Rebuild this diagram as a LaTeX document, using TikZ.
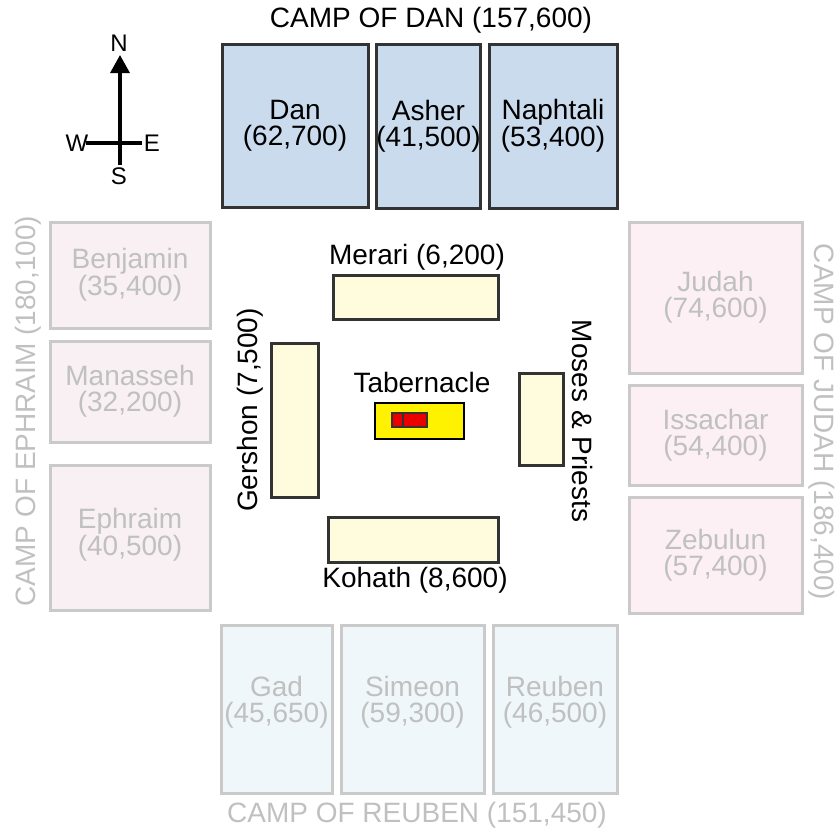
\documentclass[tikz,border=0pt]{standalone}
\usepackage{fontspec}
\setmainfont{Liberation Sans}
\usetikzlibrary{arrows.meta}
\definecolor{danfill}{RGB}{203,219,238}
\definecolor{darkline}{RGB}{51,51,51}
\definecolor{pinkL}{RGB}{248,240,243}
\definecolor{pinkR}{RGB}{252,240,244}
\definecolor{grayline}{RGB}{202,202,202}
\definecolor{graytext}{RGB}{192,192,192}
\definecolor{cyanfill}{RGB}{239,247,251}
\definecolor{cream}{RGB}{255,251,221}
\definecolor{tabred}{RGB}{235,0,0}
\tikzset{
  lbl/.style={inner sep=0pt, align=center, font=\fontsize{28}{26}\selectfont},
  tribe/.style={lbl, draw, line width=3pt, minimum width=#1},
  dantribe/.style={tribe=#1, fill=danfill, draw=darkline, text=black},
  ephtribe/.style={tribe=#1, fill=pinkL, draw=grayline, text=graytext},
  judtribe/.style={tribe=#1, fill=pinkR, draw=grayline, text=graytext},
  reutribe/.style={tribe=#1, fill=cyanfill, draw=grayline, text=graytext, text depth=20pt},
  levite/.style={draw=darkline, fill=cream, line width=3pt, inner sep=0pt},
  camptitle/.style={lbl},
  graytitle/.style={lbl, text=graytext},
  compassline/.style={line width=3.3pt, black},
  compasslbl/.style={inner sep=0pt, font=\fontsize{24}{24}\selectfont}
}
\begin{document}
\begin{tikzpicture}[x=1pt, y=-1pt]
\useasboundingbox (0,0) rectangle (838,835);
% compass
\coordinate (ctop) at (120,55);
\coordinate (cbot) at (120,165);
\coordinate (cw) at (86,143);
\coordinate (ce) at (142,143);
\draw[compassline, -{Triangle[width=19pt,length=18pt]}] (cbot) -- (ctop);
\draw[compassline] (cw) -- (ce);
\node[compasslbl] (N) at (119,43) {N};
\node[compasslbl] (S) at (119,176) {S};
\node[compasslbl] (W) at (77,143) {W};
\node[compasslbl] (E) at (152,143) {E};
% camp of Dan
\node[camptitle] (tdan) at (431,20) {CAMP OF DAN (157,600)};
\node[dantribe=146pt, minimum height=163pt] (dan) at (295,125.5) {Dan\\(62,700)};
\node[dantribe=103pt, minimum height=164pt] (asher) at (428.5,126) {Asher\\(41,500)};
\node[dantribe=128pt, minimum height=164pt] (naphtali) at (553,126) {Naphtali\\(53,400)};
% camp of Ephraim
\node[graytitle, rotate=90] (teph) at (28,411) {CAMP OF EPHRAIM (180,100)};
\node[ephtribe=160pt, minimum height=106pt] (benjamin) at (130,275) {Benjamin\\(35,400)};
\node[ephtribe=160pt, minimum height=101pt] (manasseh) at (130,391.5) {Manasseh\\(32,200)};
\node[ephtribe=160pt, minimum height=145pt, text depth=12pt] (ephraim) at (130,537.5) {Ephraim\\(40,500)};
% camp of Judah
\node[graytitle, rotate=-90] (tjud) at (822,422) {CAMP OF JUDAH (186,400)};
\node[judtribe=173pt, minimum height=151pt] (judah) at (715.5,297.5) {Judah\\(74,600)};
\node[judtribe=173pt, minimum height=100pt] (issachar) at (715.5,435) {Issachar\\(54,400)};
\node[judtribe=173pt, minimum height=116pt] (zebulun) at (715.5,555) {Zebulun\\(57,400)};
% camp of Reuben
\node[graytitle] (treu) at (417,815) {CAMP OF REUBEN (151,450)};
\node[reutribe=111pt, minimum height=168pt] (gad) at (276.5,709) {Gad\\(45,650)};
\node[reutribe=143pt, minimum height=168pt] (simeon) at (412.5,709) {Simeon\\(59,300)};
\node[reutribe=124pt, minimum height=168pt] (reuben) at (555,709) {Reuben\\(46,500)};
% Levites
\node[levite, minimum width=165pt, minimum height=44pt] (merari) at (415.5,297) {};
\node[lbl] (lmerari) at (417,257) {Merari (6,200)};
\node[levite, minimum width=47pt, minimum height=154pt] (gershon) at (294.5,420) {};
\node[lbl, rotate=90] (lgershon) at (250,410) {Gershon (7,500)};
\node[levite, minimum width=44pt, minimum height=92pt] (moses) at (541,419) {};
\node[lbl, rotate=-90] (lmoses) at (583,421) {Moses \& Priests};
\node[levite, minimum width=170pt, minimum height=45pt] (kohath) at (413,539.5) {};
\node[lbl] (lkohath) at (415,580) {Kohath (8,600)};
% Tabernacle
\node[lbl] (ltab) at (422,382) {Tabernacle};
\node[draw=black, fill=yellow, line width=2.5pt, minimum width=89pt, minimum height=36pt, inner sep=0pt] (tab) at (419.5,421) {};
\node[draw=darkline, fill=tabred, line width=2pt, minimum width=35pt, minimum height=14pt, inner sep=0pt] (ark) at (409.5,420) {};
\draw[darkline, line width=2pt] (ark.north west) ++(12,0) coordinate (divtop) -- (divtop |- ark.south);
\end{tikzpicture}
\end{document}
